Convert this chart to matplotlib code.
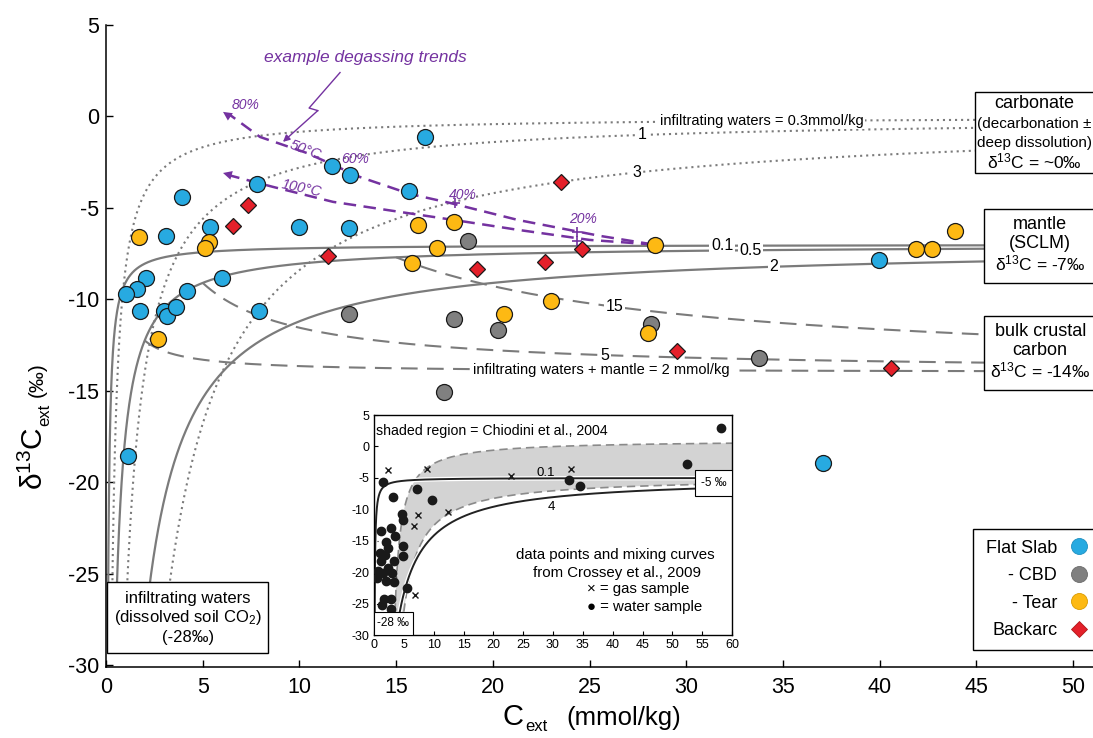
import numpy as np
import matplotlib
matplotlib.use("Agg")
import matplotlib.pyplot as plt
from matplotlib.lines import Line2D
from matplotlib.patches import Rectangle, Polygon
import matplotlib.patheffects as pe

plt.rcParams["font.family"] = ["Liberation Sans", "DejaVu Sans"]
plt.rcParams["mathtext.fontset"] = "custom"
plt.rcParams["mathtext.rm"] = "Liberation Sans"
plt.rcParams["mathtext.it"] = "Liberation Sans:italic"
plt.rcParams["mathtext.bf"] = "Liberation Sans:bold"
plt.rcParams["axes.unicode_minus"] = False

# ---------------- sample data: C_ext (mmol/kg), d13C_ext (permil) ----------------
flat_slab_x = [3.91, 3.08, 5.36, 7.82, 10.0, 12.57, 2.07, 1.58, 1.02, 1.76, 3.0, 3.17,
               3.62, 4.2, 6.0, 7.89, 16.5, 11.67, 12.62, 15.67, 1.15, 37.05, 39.97]
flat_slab_y = [-4.38, -6.55, -6.06, -3.69, -6.06, -6.09, -8.84, -9.44, -9.68, -10.66, -10.62, -10.9,
               -10.4, -9.53, -8.84, -10.62, -1.15, -2.7, -3.18, -4.1, -18.56, -18.95, -7.83]

cbd_x = [18.7, 12.57, 17.97, 20.25, 17.48, 28.2, 33.78]
cbd_y = [-6.8, -10.8, -11.1, -11.68, -15.04, -11.36, -13.22]

tear_x = [1.71, 5.32, 5.13, 2.69, 16.15, 18.0, 17.1, 15.8, 23.0, 20.58, 28.0, 28.4, 43.9, 41.9, 42.7]
tear_y = [-6.6, -6.88, -7.21, -12.18, -5.91, -5.79, -7.19, -8.03, -10.08, -10.8, -11.85, -7.03,
          -6.28, -7.26, -7.26]

backarc_x = [7.36, 6.58, 11.5, 19.2, 22.7, 24.6, 23.5, 29.5, 40.59]
backarc_y = [-4.84, -5.97, -7.61, -8.36, -7.94, -7.25, -3.6, -12.82, -13.78]

# ---------------- mixing end-members ----------------
d13c_infiltration = -28.0
d13c_carbonate = 0.0
d13c_mantle = -7.0
d13c_crust = -14.0
carbonate_c0 = [0.3, 1, 3]            # infiltrating water C (mmol/kg), dotted curves
mantle_c0 = [0.1, 0.5, 2]             # infiltrating water C (mmol/kg), solid curves
crust_start_c = [2, 5, 15]            # start on the 0.5 mantle curve, dashed curves
carbonate_labels = ["infiltrating waters = 0.3mmol/kg", "1", "3"]
carbonate_label_x = [33.9, 27.7, 27.45]
mantle_labels = ["0.1", "0.5", "2"]
mantle_label_x = [31.85, 33.3, 34.54]
crust_labels = ["infiltrating waters + mantle = 2 mmol/kg", "5", "15"]
crust_label_x = [25.6, 25.8, 26.3]

# ---------------- degassing trends ----------------
trend50_x = [28.3, 25.54, 21.3, 17.79, 15.72, 13.13, 10.39, 7.96, 6.05]
trend50_y = [-7.0, -6.53, -5.66, -4.73, -4.24, -3.31, -2.0, -1.12, 0.25]
trend100_x = [28.3, 25.0, 21.3, 18.67, 15.2, 11.74, 8.63, 6.05]
trend100_y = [-7.0, -6.75, -6.2, -5.77, -5.22, -4.67, -3.85, -3.09]
trend_tick_x = [18.05, 24.35, 24.35]
trend_tick_y = [-4.73, -6.33, -6.8]
trend_text = ["80%", "60%", "40%", "20%"]
trend_text_x = [7.24, 12.87, 18.46, 24.66]
trend_text_y = [0.63, -2.3, -4.29, -5.6]
pointer_x = [12.1, 10.5, 10.95, 9.15]
pointer_y = [2.4, 0.46, 0.32, -1.39]

# ---------------- inset (Crossey et al., 2009) ----------------
water_x = [1.56, 3.24, 7.26, 9.67, 4.64, 4.8, 1.12, 2.79, 3.52, 2.01, 2.4, 4.91, 4.8, 1.84, 3.41,
           1.17, 0.73, 2.4, 1.45, 2.96, 2.01, 3.41, 5.47, 1.68, 2.79, 1.28, 2.79, 32.7, 34.5,
           52.4, 58.1, 1.0, 0.45]
water_y = [-5.7, -8.0, -6.77, -8.52, -10.8, -11.7, -13.45, -12.9, -14.25, -15.15, -16.1, -15.8,
           -17.4, -17.3, -18.2, -18.2, -19.8, -19.4, -20.2, -20.2, -21.4, -21.5, -22.5, -24.2,
           -24.3, -25.3, -25.9, -5.4, -6.35, -2.85, 3.0, -17.0, -21.0]
gas_x = [2.4, 8.8, 22.96, 33.0, 7.43, 6.76, 12.35, 6.87, 3.24]
gas_y = [-3.75, -3.6, -4.7, -3.6, -10.9, -12.6, -10.4, -23.7, -20.3]
inset_d13c_deep = -5.0
inset_c0 = [0.1, 4]
inset_labels = ["0.1", "4"]
chiodini_upper = (1.0, 28.0, 2.5)     # d_inf, k, c_offset
chiodini_lower = (-4.9, 60.0, 2.2)

blue = "#27AAE1"
grey = "#808080"
yellow = "#FDB913"
red = "#E4202A"
purple = "#7432A0"
curve = "#7b7b7b"


def mix(c_start, d_start, d_end, c):
    return (c_start * d_start + (c - c_start) * d_end) / c


fig = plt.figure(figsize=(10.93, 7.38), dpi=100)
ax = fig.add_axes([106 / 1093, 71 / 738, 987 / 1093, 642 / 738])
ax.set_xlim(0, 51.03)
ax.set_ylim(-30.1, 5)
for s in ("top", "right"):
    ax.spines[s].set_visible(False)
for s in ("left", "bottom"):
    ax.spines[s].set_linewidth(1.1)
ax.set_xticks(np.arange(0, 51, 5))
ax.set_yticks(np.arange(-30, 6, 5))
ax.tick_params(direction="in", length=5, width=1, labelsize=15.5)
ax.tick_params(axis="x", pad=7)
ax.tick_params(axis="y", pad=5)

label_box = dict(facecolor="white", edgecolor="none", pad=1.0)

# carbonate mixing (dotted)
for c0, lab, lx in zip(carbonate_c0, carbonate_labels, carbonate_label_x):
    xs = np.linspace(c0, 51.5, 4000)
    ax.plot(xs, mix(c0, d13c_infiltration, d13c_carbonate, xs), color=curve, lw=1.5,
            ls=(0, (1, 1.9)), zorder=2)
    fs = 10.5 if len(lab) > 3 else 11.5
    ax.text(lx, mix(c0, d13c_infiltration, d13c_carbonate, lx), lab, fontsize=fs,
            ha="center", va="center", bbox=label_box, zorder=3)

# mantle mixing (solid)
for c0, lab, lx in zip(mantle_c0, mantle_labels, mantle_label_x):
    xs = np.linspace(c0, 51.5, 4000)
    ax.plot(xs, mix(c0, d13c_infiltration, d13c_mantle, xs), color=curve, lw=1.6, zorder=2)
    ax.text(lx, mix(c0, d13c_infiltration, d13c_mantle, lx), lab, fontsize=11.5,
            ha="center", va="center", bbox=label_box, zorder=3)

# crustal addition (dashed) starting on the 0.5 mmol/kg mantle curve
for cs, lab, lx in zip(crust_start_c, crust_labels, crust_label_x):
    ds = mix(0.5, d13c_infiltration, d13c_mantle, cs)
    xs = np.linspace(cs, 51.5, 2000)
    ax.plot(xs, mix(cs, ds, d13c_crust, xs), color=curve, lw=1.5, ls=(0, (8, 4.5)), zorder=2)
    fs = 10.5 if len(lab) > 3 else 11.5
    ax.text(lx, mix(cs, ds, d13c_crust, lx), lab, fontsize=fs,
            ha="center", va="center", bbox=label_box, zorder=3)

# degassing trends
for tx, ty in ((trend50_x, trend50_y), (trend100_x, trend100_y)):
    ax.plot(tx[:-1] + [tx[-1] + 0.3], ty[:-1] + [ty[-1] - 0.12], color=purple, lw=1.8,
            ls=(0, (5, 3)), zorder=3.5)
    ax.annotate("", xy=(tx[-1], ty[-1]), xytext=(tx[-2], ty[-2]),
                arrowprops=dict(arrowstyle="-|>", color=purple, lw=0, mutation_scale=16,
                                shrinkA=14, shrinkB=0), zorder=3.5)
ax.plot(trend_tick_x, trend_tick_y, ls="none", marker="+", ms=7, mew=1.2, color=purple, zorder=3.5)
for t, x, y in zip(trend_text, trend_text_x, trend_text_y):
    ax.text(x, y, t, color=purple, fontsize=10, style="italic", ha="center", va="center",
            zorder=3.5)
ax.text(10.3, -1.83, "50°C", color=purple, fontsize=10.5, style="italic", rotation=-21,
        ha="center", va="center", zorder=3.5)
ax.text(10.13, -3.95, "100°C", color=purple, fontsize=10.5, style="italic", rotation=-12,
        ha="center", va="center", zorder=3.5)
ax.text(13.4, 3.2, "example degassing trends", color=purple, fontsize=12.5, style="italic",
        ha="center", va="center", zorder=3.5)
ax.plot(pointer_x[:-1], pointer_y[:-1], color=purple, lw=1.0, zorder=3.5)
ax.annotate("", xy=(pointer_x[-1], pointer_y[-1]), xytext=(pointer_x[-2], pointer_y[-2]),
            arrowprops=dict(arrowstyle="-|>", color=purple, lw=1.0, mutation_scale=10,
                            shrinkA=0, shrinkB=0), zorder=3.5)

# samples
mk = dict(ls="none", mec="#1a1a1a", mew=0.9, zorder=4)
ax.plot(flat_slab_x, flat_slab_y, marker="o", ms=11.5, mfc=blue, **mk)
ax.plot(cbd_x, cbd_y, marker="o", ms=11.5, mfc=grey, **mk)
ax.plot(tear_x, tear_y, marker="o", ms=11.5, mfc=yellow, **mk)
ax.plot(backarc_x, backarc_y, marker="D", ms=8, mfc=red, **mk)


def boxed(x0, x1, y0, y1, lines):
    ax.add_patch(Rectangle((x0, y0), x1 - x0, y1 - y0, facecolor="white", edgecolor="black",
                           lw=1.0, zorder=6, clip_on=False))
    for txt, xc, yc, fs in lines:
        ax.text(xc, yc, txt, fontsize=fs, ha="center", va="center", zorder=7)


boxed(44.94, 51.6, -3.09, 1.34, [("carbonate", 48.0, 0.72, 13),
                                 ("(decarbonation ±", 48.0, -0.42, 11),
                                 ("deep dissolution)", 48.0, -1.46, 11),
                                 ("δ$^{13}$C = ~0‰", 48.0, -2.45, 12.5)])
boxed(45.4, 51.6, -9.1, -5.06, [("mantle", 48.3, -5.93, 13),
                                ("(SCLM)", 48.3, -6.97, 13),
                                ("δ$^{13}$C = -7‰", 48.3, -8.01, 12.5)])
boxed(45.4, 51.6, -14.96, -10.91, [("bulk crustal", 48.3, -11.73, 13),
                                   ("carbon", 48.3, -12.82, 13),
                                   ("δ$^{13}$C = -14‰", 48.3, -13.86, 12.5)])
boxed(0.05, 8.38, -29.33, -25.45, [("infiltrating waters", 4.24, -26.33, 12),
                                   ("(dissolved soil CO$_2$)", 4.24, -27.4, 12),
                                   ("(-28‰)", 4.24, -28.46, 12)])

handles = [Line2D([], [], ls="none", marker="o", ms=11.5, mfc=blue, mec="#1f8fc0", mew=0.6),
           Line2D([], [], ls="none", marker="o", ms=11.5, mfc=grey, mec="#6a6a6a", mew=0.6),
           Line2D([], [], ls="none", marker="o", ms=11.5, mfc=yellow, mec="#d99a00", mew=0.6),
           Line2D([], [], ls="none", marker="D", ms=8, mfc=red, mec="#b01818", mew=0.6)]
leg = ax.legend(handles, ["Flat Slab", "     - CBD", "     - Tear", "Backarc"], loc="upper left",
                bbox_to_anchor=(0.878, 0.215), markerfirst=False, fontsize=13, frameon=True,
                fancybox=False, edgecolor="black", borderaxespad=0, borderpad=0.6,
                handlelength=1.0, handletextpad=0.7, labelspacing=0.58, framealpha=1)
leg.get_frame().set_linewidth(1.0)
leg.set_zorder(8)

# axis labels (main symbol, subscript and units set separately)
fig.canvas.draw()
rend = fig.canvas.get_renderer()
xc = fig.text(503 / 1093, 13 / 738, "C", fontsize=21, ha="left", va="baseline")
bbc = xc.get_window_extent(rend)
fig.text((bbc.x1 + 1) / 1093, 7 / 738, "ext", fontsize=12, ha="left", va="baseline")
fig.text(566 / 1093, 13 / 738, "(mmol/kg)", fontsize=18.5, ha="left", va="baseline")

yl = fig.text(43 / 1093, (738 - 490) / 738, "δ$^{13}$C", fontsize=21.5,
              rotation=90, rotation_mode="anchor", ha="left", va="baseline")
bb = yl.get_window_extent(rend)
ys = fig.text(49 / 1093, (bb.y1 + 1) / 738, "ext", fontsize=12, rotation=90,
              rotation_mode="anchor", ha="left", va="baseline")
bb2 = ys.get_window_extent(rend)
fig.text(43 / 1093, (bb2.y1 + 6) / 738, "(‰)", fontsize=15, rotation=90,
         rotation_mode="anchor", ha="left", va="baseline")

# ---------------- inset ----------------
ax_in = fig.add_axes([374 / 1093, 103 / 738, 358 / 1093, 220 / 738])
ax_in.set_xlim(0, 60)
ax_in.set_ylim(-30, 5)
ax_in.set_xticks(np.arange(0, 61, 5))
ax_in.set_yticks(np.arange(-30, 6, 5))
ax_in.tick_params(direction="in", length=3, width=0.8, labelsize=9, pad=3)
for s in ax_in.spines.values():
    s.set_linewidth(1.0)

ua, uk, uc = chiodini_upper
la, lk, lc = chiodini_lower
xu = np.linspace(uc + uk / (ua + 30.5), 60, 1500)
xl = np.linspace(lc + lk / (la + 30.5), 60, 1500)
yu = ua - uk / (xu - uc)
ylw = la - lk / (xl - lc)
ax_in.add_patch(Polygon(np.column_stack([np.concatenate([xu, xl[::-1]]),
                                         np.concatenate([yu, ylw[::-1]])]),
                        closed=True, facecolor="#d3d3d3", edgecolor="none", zorder=1))
ax_in.plot(xu, yu, color="#8a8a8a", lw=1.2, ls=(0, (5, 3)), zorder=1.5)
ax_in.plot(xl, ylw, color="#8a8a8a", lw=1.2, ls=(0, (5, 3)), zorder=1.5)

for c0 in inset_c0:
    xs = np.linspace(c0, 60, 3000)
    ax_in.plot(xs, mix(c0, d13c_infiltration, inset_d13c_deep, xs), color="#222222", lw=1.4,
               zorder=2, path_effects=[pe.Stroke(linewidth=3.2, foreground="white"), pe.Normal()])
ax_in.text(28.8, -4.2, inset_labels[0], fontsize=9.5, ha="center", va="center", zorder=3)
ax_in.text(29.8, -9.6, inset_labels[1], fontsize=9.5, ha="center", va="center", zorder=3)

ax_in.plot(water_x, water_y, ls="none", marker="o", ms=6, color="#1a1a1a", zorder=4)
ax_in.plot(gas_x, gas_y, ls="none", marker="x", ms=4, mew=1.0, color="#1a1a1a", zorder=4)

ax_in.add_patch(Rectangle((53.8, -7.9), 6.2, 4.15, facecolor="white", edgecolor="black",
                          lw=0.8, zorder=5))
ax_in.text(56.9, -5.8, "-5 ‰", fontsize=8.5, ha="center", va="center", zorder=6)
ax_in.add_patch(Rectangle((0, -30), 6.5, 3.7, facecolor="white", edgecolor="black",
                          lw=0.8, zorder=5))
ax_in.text(3.25, -28.15, "-28 ‰", fontsize=8.5, ha="center", va="center", zorder=6)

ax_in.text(0.4, 2.45, "shaded region = Chiodini et al., 2004", fontsize=10.2, ha="left",
           va="center", zorder=6)
ax_in.text(40.5, -17.27, "data points and mixing curves", fontsize=10.8, ha="center",
           va="center", zorder=6)
ax_in.text(40.7, -20.13, "from Crossey et al., 2009", fontsize=10.8, ha="center",
           va="center", zorder=6)
ax_in.text(35.7, -22.7, "× = gas sample", fontsize=10.8, ha="left", va="center", zorder=6)
ax_in.text(35.7, -25.5, "● = water sample", fontsize=10.8, ha="left", va="center", zorder=6)

fig.savefig("out.png", dpi=100)
